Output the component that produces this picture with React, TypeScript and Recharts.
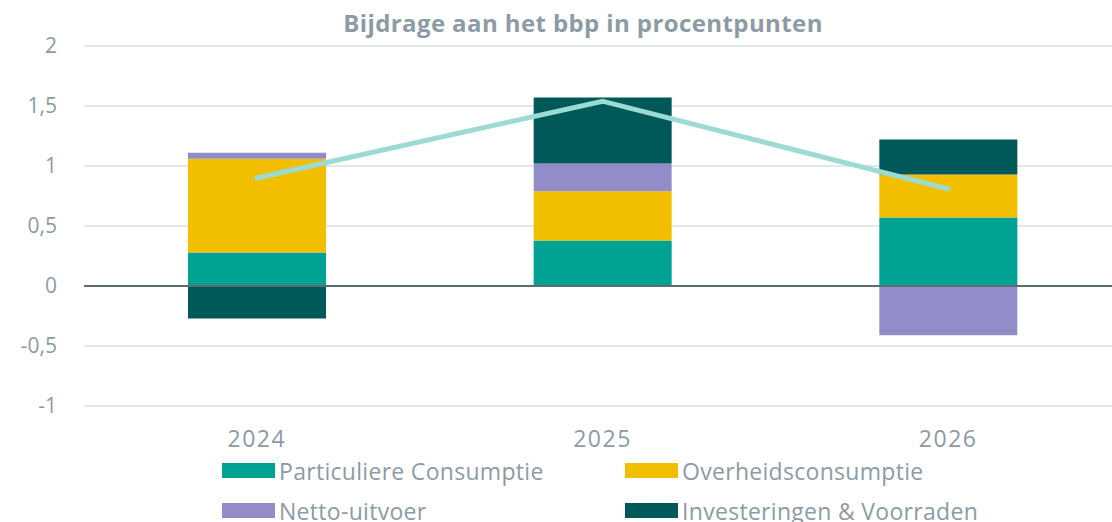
import React from "react";
import { Bar, CartesianGrid, ComposedChart, Legend, Line, ReferenceLine, XAxis, YAxis } from "recharts";

const years = ["2024", "2025", "2026"];
const particuliere = [0.28, 0.38, 0.57];
const overheid = [0.78, 0.41, 0.36];
const netto = [0.05, 0.23, -0.41];
const investeringen = [-0.27, 0.55, 0.29];
const bbp = [0.9, 1.54, 0.81];
const yTicks = [-1, -0.5, 0, 0.5, 1, 1.5, 2];

const series = [
  { key: "particuliere", name: "Particuliere Consumptie", color: "#00a294" },
  { key: "overheid", name: "Overheidsconsumptie", color: "#f2bf00" },
  { key: "netto", name: "Netto-uitvoer", color: "#928dc8" },
  { key: "investeringen", name: "Investeringen & Voorraden", color: "#005958" },
];

const data = years.map((year, i) => ({
  year,
  particuliere: particuliere[i],
  overheid: overheid[i],
  netto: netto[i],
  investeringen: investeringen[i],
  bbp: bbp[i],
}));

const textColor = "#8c9ba5";
const font = "'Open Sans', sans-serif";

const LegendBox = () => (
  <div style={{ display: "grid", gridTemplateColumns: "403px 420px", rowGap: 13, fontFamily: font, fontSize: 23, color: textColor, letterSpacing: 0.3 }}>
    {series.map((s) => (
      <div key={s.key} style={{ display: "flex", alignItems: "center", height: 27, whiteSpace: "nowrap" }}>
        <span style={{ display: "inline-block", width: 53, height: 15, background: s.color, marginRight: 4 }} />
        <span>{s.name}</span>
      </div>
    ))}
  </div>
);

const App = () => {
  return (
    <div style={{ position: "absolute", left: 0, top: 0, width: 1112, height: 522, overflow: "hidden", background: "#fff" }}>
      <div style={{ position: "absolute", left: 0, width: 1166, top: 6, textAlign: "center", fontFamily: font, fontWeight: 700, fontSize: 24, color: textColor, letterSpacing: 0.4 }}>
        Bijdrage aan het bbp in procentpunten
      </div>
      <ComposedChart
        width={1121}
        height={522}
        data={data}
        stackOffset="sign"
        margin={{ top: 46, right: 0, left: 0, bottom: 56 }}
      >
        <CartesianGrid vertical={false} stroke="#e3e7ea" strokeWidth={2} />
        <XAxis
          dataKey="year"
          axisLine={false}
          tickLine={false}
          tickSize={0}
          tickMargin={25}
          height={60}
          tick={{ fill: textColor, fontSize: 23, fontFamily: font, letterSpacing: 1.5 }}
        />
        <YAxis
          domain={[-1, 2]}
          ticks={yTicks}
          interval={0}
          axisLine={false}
          tickLine={false}
          tickSize={0}
          tickMargin={27}
          width={84}
          tickFormatter={(v: number) => String(v).replace(".", ",")}
          tick={{ fill: textColor, fontSize: 21, fontFamily: font }}
        />
        {series.map((s) => (
          <Bar key={s.key} dataKey={s.key} name={s.name} stackId="a" fill={s.color} barSize={138} isAnimationActive={false} />
        ))}
        <ReferenceLine y={0} stroke="#5e6a72" strokeWidth={2} />
        <Line
          dataKey="bbp"
          stroke="#9cdbd3"
          strokeWidth={5}
          strokeLinecap="round"
          dot={false}
          activeDot={false}
          type="linear"
          isAnimationActive={false}
        />
        <Legend
          layout="horizontal"
          verticalAlign="middle"
          content={() => <LegendBox />}
          wrapperStyle={{ position: "absolute", left: 222, top: 457, width: 840 }}
        />
      </ComposedChart>
    </div>
  );
};

export default App;
